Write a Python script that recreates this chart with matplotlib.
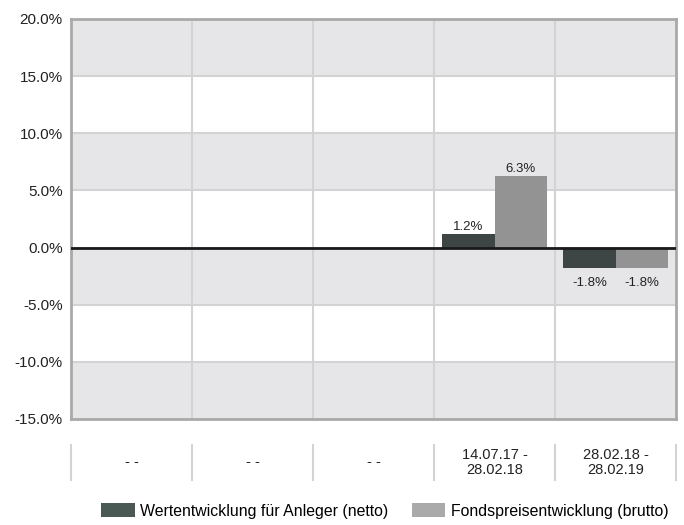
import matplotlib
matplotlib.use("Agg")
import matplotlib.pyplot as plt
import matplotlib.transforms as mtransforms
from matplotlib.patches import Patch
import numpy as np

plt.rcParams['font.family'] = ['Liberation Sans', 'DejaVu Sans']

periods = ['- -', '- -', '- -', '14.07.17 -\n28.02.18', '28.02.18 -\n28.02.19']
netto = [None, None, None, 1.2, -1.8]
brutto = [None, None, None, 6.3, -1.8]
series_names = ['Wertentwicklung für Anleger (netto)', 'Fondspreisentwicklung (brutto)']
y_ticks = [-15, -10, -5, 0, 5, 10, 15, 20]

dark = '#3d4644'
light = '#939393'
dark_leg = '#4b5955'
light_leg = '#aaaaaa'
band = '#e6e6e8'
grid = '#d2d3d3'
border = '#a9a9a9'

fig = plt.figure(figsize=(6.84, 5.25), dpi=100)
ax = fig.add_axes([71 / 684, 1 - 419 / 525, 605 / 684, 400 / 525])

n = len(periods)
x = np.arange(n)
ax.set_xlim(-0.5, n - 0.5)
ax.set_ylim(-15, 20)

# alternating horizontal bands
for i, lo in enumerate(y_ticks[:-1]):
    if i % 2 == 0:
        ax.axhspan(lo, lo + 5, color=band, zorder=0, lw=0)
for t in y_ticks[1:-1]:
    ax.axhline(t, color=grid, lw=1.5, zorder=1)
for b in np.arange(0.5, n - 0.5, 1):
    ax.axvline(b, color=grid, lw=1.5, zorder=1)

w = 0.43
for i in range(n):
    if netto[i] is None:
        continue
    ax.bar(x[i] - w / 2, netto[i], w, color=dark, zorder=2)
    ax.bar(x[i] + w / 2, brutto[i], w, color=light, zorder=2)
    for off, v in ((-w / 2, netto[i]), (w / 2, brutto[i])):
        if v >= 0:
            ax.text(x[i] + off, v + 0.05, f'{v:.1f}%', ha='center', va='bottom',
                    fontsize=9.5, color='#222222', zorder=3)
        else:
            ax.text(x[i] + off, v - 0.75, f'{v:.1f}%', ha='center', va='top',
                    fontsize=9.5, color='#222222', zorder=3)

ax.axhline(0, color='#1a1a1a', lw=2, zorder=4)

ax.set_yticks(y_ticks)
ax.set_yticklabels([f'{t:.1f}%' for t in y_ticks], fontsize=11, color='#222222')
ax.tick_params(axis='y', length=0, pad=6)
ax.set_xticks([])
for s in ax.spines.values():
    s.set_color(border)
    s.set_linewidth(2)

# category labels below the plot
trans = mtransforms.blended_transform_factory(ax.transData, ax.transAxes)
for i, lab in enumerate(periods):
    ax.text(x[i], -0.108, lab, transform=trans, ha='center', va='center',
            fontsize=10.5, color='#222222', linespacing=1.1)
for b in np.arange(-0.5, n, 1):
    ax.plot([b, b], [-0.065, -0.153], transform=trans, color=grid, lw=1.5,
            clip_on=False)

handles = [Patch(facecolor=dark_leg, edgecolor='none'),
           Patch(facecolor=light_leg, edgecolor='none')]
fig.legend(handles, series_names, loc='center', bbox_to_anchor=(385 / 684, 14 / 525),
           ncol=2, frameon=False, fontsize=11.4, handlelength=2.1, handleheight=0.9,
           handletextpad=0.35, columnspacing=1.5, borderpad=0, borderaxespad=0)

fig.savefig('out.png', dpi=100)
